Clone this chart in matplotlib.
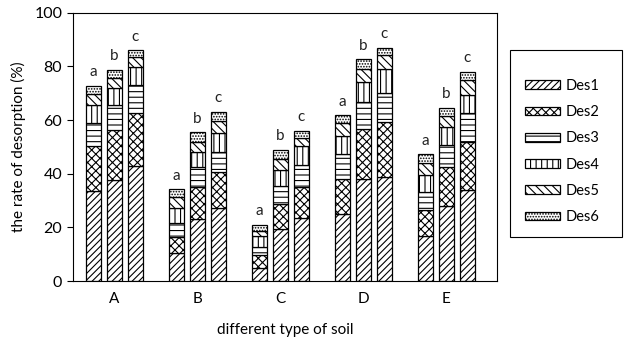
import numpy as np
import matplotlib as mpl
mpl.use('Agg')
import matplotlib.pyplot as plt
from matplotlib.patches import Rectangle

plt.rcParams['font.family'] = ['Lato', 'DejaVu Sans']
plt.rcParams['hatch.linewidth'] = 0.8

soils = ['A', 'B', 'C', 'D', 'E']
letters = ['a', 'b', 'c']

# desorption of each step (%), 3 bars per soil: A-a, A-b, A-c, B-a, ...
des1 = [33.5, 37.6, 42.8, 10.3, 23.3, 27.4, 4.7, 19.3, 23.4,
        25.0, 37.9, 38.6, 16.8, 28.0, 33.9]
des2 = [16.8, 18.6, 19.8, 6.2, 11.8, 13.3, 5.0, 9.6, 11.7,
        13.2, 18.8, 20.7, 9.6, 14.6, 18.0]
des3 = [8.5, 9.3, 10.4, 5.0, 7.5, 7.5, 3.1, 6.5, 8.1,
        9.0, 10.1, 10.6, 6.9, 8.1, 10.6]
des4 = [6.7, 6.3, 6.8, 5.6, 5.6, 6.8, 4.0, 5.9, 7.1,
        6.8, 7.4, 9.3, 6.2, 6.8, 7.0]
des5 = [4.1, 3.7, 3.6, 4.1, 3.5, 4.7, 1.8, 4.0, 3.0,
        4.8, 5.0, 5.0, 4.6, 4.0, 5.4]
des6 = [3.1, 3.1, 2.6, 3.0, 3.7, 3.4, 2.3, 3.7, 2.6,
        3.0, 3.4, 2.8, 3.1, 3.0, 3.1]

series = [des1, des2, des3, des4, des5, des6]
names = ['Des1', 'Des2', 'Des3', 'Des4', 'Des5', 'Des6']
hatches = ['/////', 'xxxx', '---', '|||', '\\\\\\\\', '......']

fig = plt.figure(figsize=(6.25, 3.44), dpi=100)
ax = fig.add_axes([0.1163, 0.183, 0.679, 0.78])

width = 0.18
step = 0.253
x = np.array([g + (k - 1) * step for g in range(len(soils)) for k in range(3)])

bottom = np.zeros(len(x))
for vals, name, h in zip(series, names, hatches):
    ax.bar(x, vals, width, bottom=bottom, color='white', edgecolor='black',
           linewidth=0.9, hatch=h, label=name)
    bottom += np.array(vals)

# significance letters above each bar
for i, top in enumerate(bottom):
    ax.text(x[i], top + 2.5, letters[i % 3], ha='center', va='bottom',
            fontsize=11, color='#222222')

ax.set_xlim(-0.5, 4.61)
ax.set_ylim(0, 100)
ax.set_yticks(range(0, 101, 20))
ax.set_xticks(range(len(soils)))
ax.set_xticklabels(soils)
ax.tick_params(axis='x', length=0, labelsize=11, pad=8)
ax.tick_params(axis='y', direction='out', length=4, labelsize=11.5)
for sp in ax.spines.values():
    sp.set_linewidth(0.8)

ax.set_xlabel('different type of soil', fontsize=11, labelpad=12)
ax.set_ylabel('the rate of desorption (%)', fontsize=11, labelpad=6)

# legend box drawn separately (padding above is larger than below)
fig.patches.append(Rectangle((510 / 625, 1 - 237 / 344), 112 / 625, 187 / 344,
                             transform=fig.transFigure, fill=False,
                             edgecolor='black', linewidth=0.8))
leg = fig.legend(loc='upper left', bbox_to_anchor=(525 / 625, 1 - 79 / 344),
                 fontsize=10.5, frameon=False,
                 handlelength=2.4, handleheight=0.55, labelspacing=0.84,
                 borderpad=0, handletextpad=0.4, borderaxespad=0)

plt.savefig('out.png', dpi=100)
plt.close()
